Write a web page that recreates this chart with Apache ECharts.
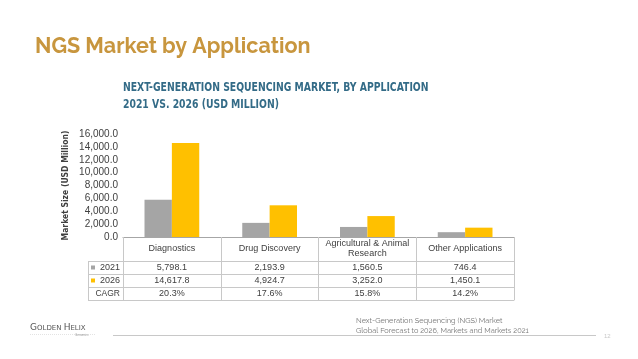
<!DOCTYPE html>
<html><head><meta charset="utf-8">
<script src="https://cdn.jsdelivr.net/npm/echarts@6/dist/echarts.min.js"></script>
<style>html,body{margin:0;padding:0;background:#fff}#c{width:638px;height:359px}</style>
</head><body><div id="c"></div>
<script>
const categories = ['Diagnostics', 'Drug Discovery', 'Agricultural & Animal\nResearch', 'Other Applications'];
const values2021 = [5798.1, 2193.9, 1560.5, 746.4];
const values2026 = [14617.8, 4924.7, 3252.0, 1450.1];
const cagr = ['20.3%', '17.6%', '15.8%', '14.2%'];
const seriesNames = ['2021', '2026'];
const yTicks = {min: 0, max: 16000, interval: 2000};

const fmt = v => v.toLocaleString('en-US', {minimumFractionDigits: 1, maximumFractionDigits: 1});
const NARROW = '"Liberation Sans Narrow","DejaVu Sans Condensed",sans-serif';
const SANS = '"Liberation Sans",Arial,sans-serif';
const TXT = '#404040';
const LINE = '#c8c8c8';
const GRAY = '#a5a5a5', YEL = '#ffc000';

const gridTop = 134, gridBottomY = 237, gridLeft = 123, gridRight = 514;
const rowOffsets = [24, 37, 50, 63];

function rowAxis(data, offset, showTicks) {
  return {
    type: 'category', data: data, position: 'bottom', offset: offset,
    axisLine: {show: true, lineStyle: {color: LINE, width: 1}},
    axisTick: {show: showTicks, length: 13, interval: 0, lineStyle: {color: LINE}},
    axisLabel: {show: true, interval: 0, margin: 6.5, verticalAlign: 'middle', fontFamily: SANS, fontSize: 9, color: TXT},
    splitLine: {show: false}
  };
}

const chart = echarts.init(document.getElementById('c'), null, {renderer: 'canvas'});
chart.setOption({
  backgroundColor: '#ffffff',
  animation: false,
  title: [
    {text: 'NGS Market by Application', left: 30, top: 31,
     textStyle: {fontFamily: 'Raleway,"Open Sans",Lato,sans-serif', fontWeight: 'bold', fontSize: 21.5, color: '#c8963e'}}
  ],
  grid: {left: gridLeft, top: gridTop, width: gridRight - gridLeft, height: gridBottomY - gridTop, containLabel: false},
  xAxis: [
    {
      type: 'category', data: categories, position: 'bottom',
      axisLine: {show: true, lineStyle: {color: '#a6a6a6', width: 1}},
      axisTick: {show: true, length: 24, interval: 0, lineStyle: {color: LINE}},
      axisLabel: {interval: 0, margin: 12, verticalAlign: 'middle', fontFamily: SANS, fontSize: 9, lineHeight: 10, color: TXT},
      splitLine: {show: false}
    },
    rowAxis(values2021.map(fmt), rowOffsets[0], true),
    rowAxis(values2026.map(fmt), rowOffsets[1], true),
    rowAxis(cagr, rowOffsets[2], true),
    Object.assign(rowAxis(cagr.map(() => ''), rowOffsets[3], false), {axisLabel: {show: false}})
  ],
  yAxis: {
    type: 'value', min: yTicks.min, max: yTicks.max, interval: yTicks.interval,
    name: 'Market Size (USD Million)', nameLocation: 'middle', nameGap: 53, nameMoveOverlap: false,
    nameTextStyle: {fontFamily: NARROW, fontWeight: 'bold', fontSize: 8.5, color: TXT},
    axisLine: {show: false}, axisTick: {show: false},
    axisLabel: {formatter: v => fmt(v), fontFamily: SANS, fontSize: 10, color: TXT, margin: 5},
    splitLine: {show: false}
  },
  series: [
    {name: seriesNames[0], type: 'bar', data: values2021, itemStyle: {color: GRAY}, barGap: '0%', barCategoryGap: '44%'},
    {name: seriesNames[1], type: 'bar', data: values2026, itemStyle: {color: YEL}, barGap: '0%', barCategoryGap: '44%'}
  ],
  graphic: [
    // chart subtitle (condensed)
    {type: 'text', x: 123, y: 88, scaleX: 0.825, style: {text: 'NEXT-GENERATION SEQUENCING MARKET, BY APPLICATION', verticalAlign: 'middle', font: 'bold 12.5px ' + NARROW, fill: '#336b87'}},
    {type: 'text', x: 123, y: 105, scaleX: 0.825, style: {text: '2021 VS. 2026 (USD MILLION)', verticalAlign: 'middle', font: 'bold 12.5px ' + NARROW, fill: '#336b87'}},
    // left label column of the table
    ...[0, 1, 2, 3].map(i => ({type: 'line', shape: {x1: 88, y1: gridBottomY + rowOffsets[i] + 0.5, x2: gridLeft, y2: gridBottomY + rowOffsets[i] + 0.5}, style: {stroke: LINE, lineWidth: 1}})),
    {type: 'line', shape: {x1: 88.5, y1: gridBottomY + rowOffsets[0], x2: 88.5, y2: gridBottomY + rowOffsets[3]}, style: {stroke: LINE, lineWidth: 1}},
    {type: 'line', shape: {x1: gridLeft + 0.5, y1: gridBottomY + rowOffsets[0], x2: gridLeft + 0.5, y2: gridBottomY + rowOffsets[3]}, style: {stroke: LINE, lineWidth: 1}},
    {type: 'rect', shape: {x: 91, y: gridBottomY + rowOffsets[0] + 4.5, width: 4, height: 4}, style: {fill: GRAY}},
    {type: 'rect', shape: {x: 91, y: gridBottomY + rowOffsets[1] + 4.5, width: 4, height: 4}, style: {fill: YEL}},
    {type: 'text', x: 120, y: gridBottomY + rowOffsets[0] + 7, style: {text: seriesNames[0], align: 'right', verticalAlign: 'middle', font: '9px ' + SANS, fill: TXT}},
    {type: 'text', x: 120, y: gridBottomY + rowOffsets[1] + 7, style: {text: seriesNames[1], align: 'right', verticalAlign: 'middle', font: '9px ' + SANS, fill: TXT}},
    {type: 'text', x: 120, y: gridBottomY + rowOffsets[2] + 7, style: {text: 'CAGR', align: 'right', verticalAlign: 'middle', font: '8.5px ' + SANS, fill: TXT}},
    // footer
    {type: 'text', x: 30, y: 328, style: {text: '{b|G}{s|OLDEN }{b|H}{s|ELIX}', verticalAlign: 'middle',
      rich: {b: {fontFamily: '"DejaVu Sans",sans-serif', fontSize: 9, fill: '#555', fontWeight: 'normal'},
             s: {fontFamily: '"DejaVu Sans",sans-serif', fontSize: 7, fill: '#555'}}}},
    {type: 'line', shape: {x1: 30, y1: 334.5, x2: 96, y2: 334.5}, style: {stroke: '#d0d0d0', lineWidth: 0.6, lineDash: [1, 1]}},
    {type: 'text', x: 75, y: 335, style: {text: 'Genomics', font: '3px sans-serif', fill: '#999', verticalAlign: 'middle'}},
    {type: 'line', shape: {x1: 113, y1: 335.5, x2: 596, y2: 335.5}, style: {stroke: '#c8c8c8', lineWidth: 1}},
    {type: 'text', x: 604, y: 336, style: {text: '12', font: '6px sans-serif', fill: '#c8c8c8', verticalAlign: 'middle'}},
    {type: 'text', x: 356, y: 320.5, style: {text: 'Next-Generation Sequencing (NGS) Market', font: '7.4px Raleway,"Open Sans",sans-serif', fill: '#777', verticalAlign: 'middle'}},
    {type: 'text', x: 356, y: 331, style: {text: 'Global Forecast to 2026, Markets and Markets 2021', font: '7.4px Raleway,"Open Sans",sans-serif', fill: '#777', verticalAlign: 'middle'}}
  ]
});
</script></body></html>
